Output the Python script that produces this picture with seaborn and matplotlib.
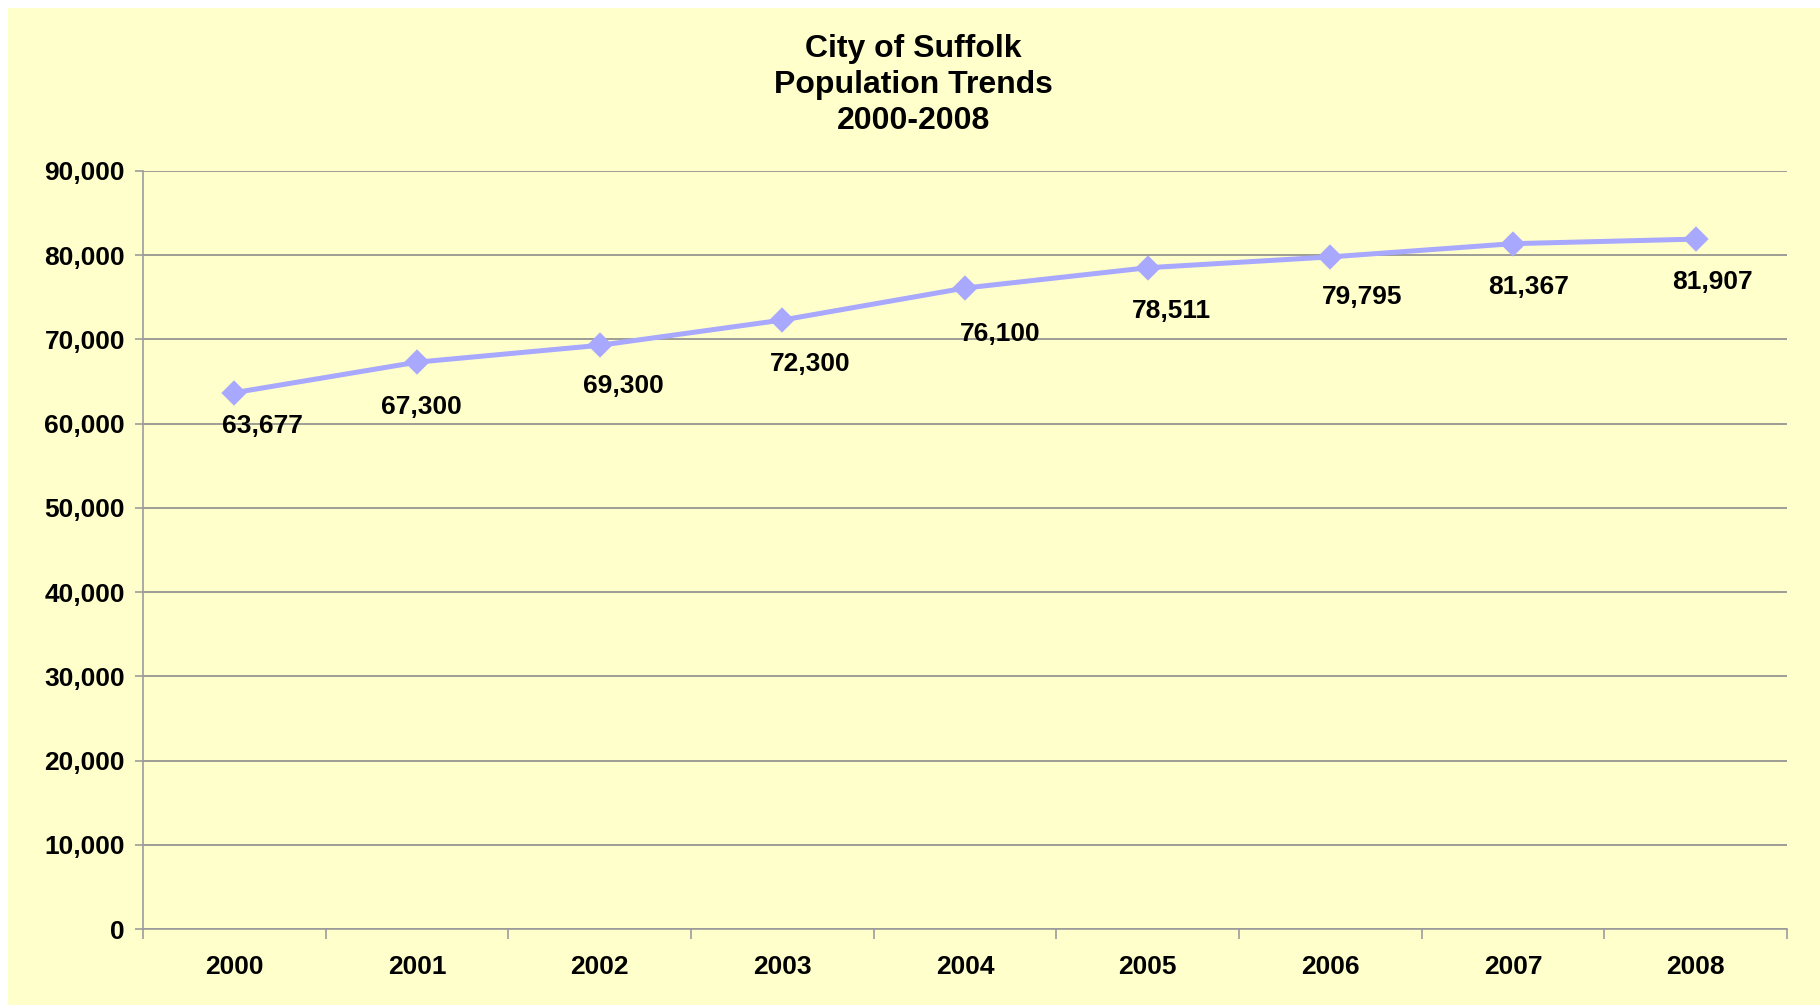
import numpy as np
import pandas as pd
import seaborn as sns
import matplotlib.pyplot as plt
from matplotlib.patches import Rectangle
from matplotlib.ticker import FuncFormatter, FixedLocator

# values
years = ['2000', '2001', '2002', '2003', '2004', '2005', '2006', '2007', '2008']
population = [63677, 67300, 69300, 72300, 76100, 78511, 79795, 81367, 81907]
title_lines = ['City of Suffolk', 'Population Trends', '2000-2008']

# where Excel dropped each data label, relative to its point (points)
label_dx = [20, 3, 17, 20, 25, 17, 23, 11, 12]
label_dy = [-24, -32, -29, -32, -33, -31, -29, -31, -31]

df = pd.DataFrame({'year': years, 'population': population})

sns.set_style('white')
plt.rcParams['font.family'] = ['Liberation Sans', 'DejaVu Sans']
plt.rcParams['font.weight'] = 'bold'
plt.rcParams['text.color'] = 'black'
plt.rcParams['xtick.color'] = 'black'
plt.rcParams['ytick.color'] = 'black'

fig = plt.figure(figsize=(18.2, 10.05), dpi=100)
fig.patch.set_facecolor('white')
# light yellow chart area, thin white margin top/left
fig.add_artist(Rectangle((8 / 1820, 0), 1 - 8 / 1820, 1 - 8 / 1005,
                         transform=fig.transFigure, facecolor='#FFFFCC',
                         edgecolor='none', zorder=-10))

ax = fig.add_axes([0.0786, 0.0756, 0.9033, 0.7543])
ax.set_facecolor('none')

sns.pointplot(data=df, x='year', y='population', ax=ax, color='#A8A8FF',
              markers='D', markersize=10, linewidth=3.6, errorbar=None)

ax.set_ylim(0, 90000)
ax.set_xlim(-0.5, len(years) - 0.5)
ax.yaxis.set_major_locator(FixedLocator(np.arange(0, 90001, 10000)))
ax.yaxis.set_major_formatter(FuncFormatter(lambda v, p: f'{int(v):,}'))
ax.grid(axis='y', color='#8C8C8C', linewidth=1.2)
ax.set_axisbelow(True)

# category boundaries get the tick marks, labels sit between
ax.xaxis.set_minor_locator(FixedLocator(np.arange(-0.5, len(years), 1.0)))
ax.tick_params(axis='x', which='major', length=0, pad=19, labelsize=19,
               labelcolor='black')
ax.tick_params(axis='x', which='minor', length=7, width=1.2, color='#9C9C9C',
               direction='out', bottom=True)
ax.tick_params(axis='y', length=6, width=1.2, color='#9C9C9C', pad=7,
               labelsize=19, left=True, direction='out', labelcolor='black')

for s in ['top', 'right']:
    ax.spines[s].set_visible(False)
for s in ['left', 'bottom']:
    ax.spines[s].set_color('#9C9C9C')
    ax.spines[s].set_linewidth(1.2)

ax.set_xlabel('')
ax.set_ylabel('')

for i, v in enumerate(population):
    ax.annotate(f'{v:,}', (i, v), xytext=(label_dx[i], label_dy[i]),
                textcoords='offset points', ha='center', va='center',
                fontsize=19, fontweight='bold', color='black')

fig.text(0.5017, 0.966, '\n'.join(title_lines), ha='center', va='top',
         fontsize=23, fontweight='bold', linespacing=1.25, color='black')

fig.savefig('out.png', dpi=100)
